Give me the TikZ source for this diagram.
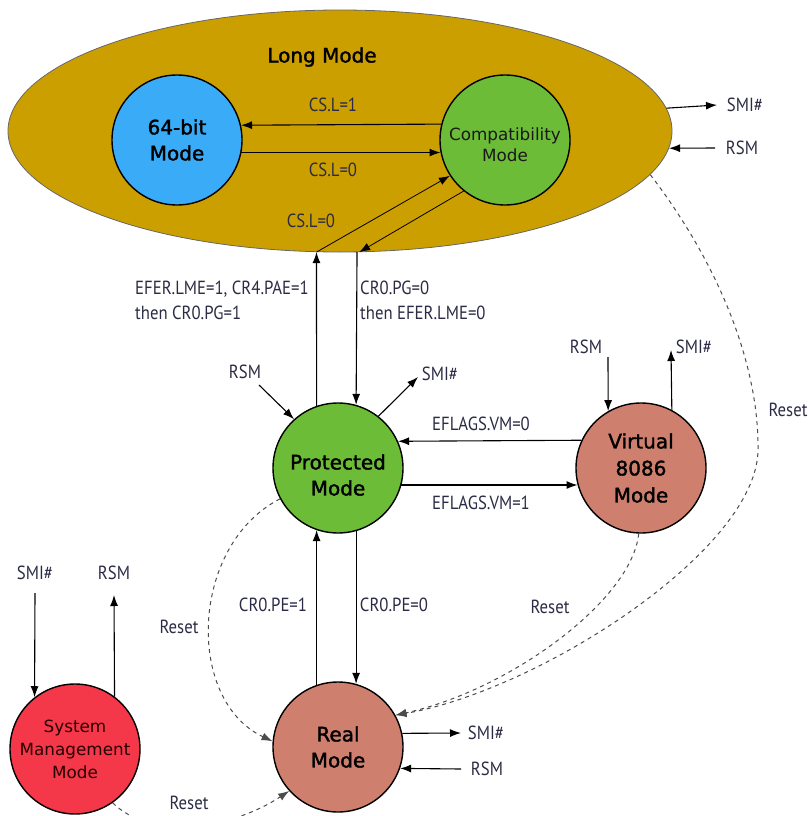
\documentclass[tikz,border=0pt]{standalone}
\usepackage{fontspec}
\setmainfont{DejaVu Sans}
\newfontfamily\labfont[FakeStretch=0.88]{PT Sans}
\newfontfamily\statefont[FakeBold=1.6]{DejaVu Sans}
\usetikzlibrary{arrows.meta,shapes.geometric}
\definecolor{longgold}{HTML}{CC9F00}
\definecolor{bitblue}{HTML}{3AABF7}
\definecolor{modegreen}{HTML}{6CBC38}
\definecolor{salmon}{HTML}{CF7F6E}
\definecolor{smmred}{HTML}{F5374A}
\definecolor{labelink}{HTML}{2B2B45}
\begin{document}
\begin{tikzpicture}[x=1pt,y=-1pt,
  state/.style={circle,draw=black,line width=1.4pt,minimum size=130pt,inner sep=0pt,align=center},
  boldtxt/.style={font=\statefont\fontsize{20}{26}\selectfont,align=center},
  thintxt/.style={font=\fontsize{16.8}{21}\selectfont,align=center},
  lbl/.style={font=\labfont\fontsize{19}{25}\selectfont,text=labelink,inner sep=1pt},
  arr/.style={-{Latex[length=11pt,width=8pt]},line width=1.1pt},
  rst/.style={arr,dash pattern=on 4pt off 4pt,draw=black!70,line width=1pt}]
\useasboundingbox (0,0) rectangle (809,816);

% Long mode region and its sub-modes
\node[ellipse,draw=black!60,line width=0.8pt,fill=longgold,minimum width=664pt,minimum height=242pt,inner sep=0pt] (lm) at (340,131) {};
\node[boldtxt] (lmtitle) at (322,57) {Long Mode};
\node[state,fill=bitblue,boldtxt] (b64) at (177,140) {64-bit\\Mode};
\node[state,fill=modegreen] (cmp) at (505,140) {};
\node[thintxt,text=black!90] (cmptxt) at (505,145) {Compatibility\\Mode};

% Other operating modes
\node[state,fill=modegreen] (prot) at (338,468) {};
\node[boldtxt] (prottxt) at (338,475) {Protected\\Mode};
\node[state,fill=salmon,font=\statefont\fontsize{20}{27}\selectfont] (v86) at (641,468) {Virtual\\8086\\Mode};
\node[state,fill=salmon,boldtxt] (real) at (338,747) {Real\\Mode};
\node[state,fill=smmred,font=\fontsize{16.8}{23}\selectfont,text=black!85!red] (smm) at (75,749) {System\\Management\\Mode};

% Transition labels
\node[lbl] (csl1) at (333,105) {CS.L=1};
\node[lbl] (csl0a) at (333,170) {CS.L=0};
\node[lbl] (csl0b) at (311,221) {CS.L=0};
\node[lbl,anchor=west,align=left] (enterlm) at (134,300.5) {EFER.LME=1, CR4.PAE=1\\then CR0.PG=1};
\node[lbl,anchor=west,align=left] (leavelm) at (359,300.5) {CR0.PG=0\\then EFER.LME=0};
\node[lbl] (vm0) at (481,424) {EFLAGS.VM=0};
\node[lbl] (vm1) at (481,503) {EFLAGS.VM=1};
\node[lbl] (pe1) at (273,605) {CR0.PE=1};
\node[lbl] (pe0) at (394,605) {CR0.PE=0};
\node[lbl] (rstA) at (788,410) {Reset};
\node[lbl] (rstB) at (550,607) {Reset};
\node[lbl] (rstC) at (179,627) {Reset};
\node[lbl] (rstD) at (189,803) {Reset};
\node[lbl] (lmsmi) at (745,105) {SMI\#};
\node[lbl] (lmrsm) at (742,148) {RSM};
\node[lbl] (prsm) at (245,372) {RSM};
\node[lbl] (psmi) at (440,374) {SMI\#};
\node[lbl] (vrsm) at (586,347) {RSM};
\node[lbl] (vsmi) at (694,347) {SMI\#};
\node[lbl] (rsmi) at (486,733) {SMI\#};
\node[lbl] (rrsm) at (487,769) {RSM};
\node[lbl] (ssmi) at (35,573) {SMI\#};
\node[lbl] (srsm) at (114,573) {RSM};

% Free ends of the SMI#/RSM stubs
\coordinate (lmSmiEnd) at (717,105);
\coordinate (lmRsmStart) at (715,148);
\coordinate (pRsmStart) at (259,385);
\coordinate (pSmiEnd) at (418,377);
\coordinate (vRsmStart) at (608,357);
\coordinate (vSmiEnd) at (671,350);
\coordinate (rSmiEnd) at (461,733);
\coordinate (rRsmStart) at (461,769);
\coordinate (sSmiStart) at (35,593);
\coordinate (sRsmEnd) at (114,595);
\coordinate (lmTurn) at (758,450);

% Transitions inside long mode
\draw[arr] (cmp.166.7) -- (b64.13.3);
\draw[arr] (b64.-11.5) -- (cmp.191.5);
\draw[arr,line width=0.8pt] (lm.-101.2) -- (cmp.213.2);
\draw[arr,line width=0.8pt] (cmp.231) -- (lm.-81.5);

% Entering and leaving long mode
\draw[arr] (prot.109.8) -- (lm.-101.2);
\draw[arr] (lm.-82.9) -- (prot.74.8);

% Protected <-> virtual 8086
\draw[arr] (v86.155.4) -- (prot.24.6);
\draw[arr] (prot.-15.2) -- (v86.195.2);

% Protected <-> real
\draw[arr] (real.109.8) -- (prot.-109.8);
\draw[arr] (prot.-74.8) -- (real.74.8);

% SMI# and RSM stubs
\draw[arr] (lm.4.5) -- (lmSmiEnd);
\draw[arr] (lmRsmStart) -- (lm.-3);
\draw[arr] (pRsmStart) -- (prot.132.5);
\draw[arr] (prot.52.3) -- (pSmiEnd);
\draw[arr] (vRsmStart) -- (v86.120.5);
\draw[arr] (v86.62.5) -- (vSmiEnd);
\draw[arr] (real.12.4) -- (rSmiEnd);
\draw[arr] (rRsmStart) -- (real.-19.8);
\draw[arr] (sSmiStart) -- (smm.128);
\draw[arr] (smm.53.1) -- (sRsmEnd);

% Reset paths into real mode
\draw[rst] (prot.208) .. controls (190,545) and (185,700) .. (real.175);
\draw[rst] (smm.-55) .. controls (150,840) and (230,830) .. (real.222.7);
\draw[rst] (v86.-92) .. controls (632,600) and (510,690) .. (real.29.5);
\draw[rst] (lm.-8.6) .. controls (715,259) and (759,360) .. (lmTurn) .. controls (757,550) and (540,690) .. (real.29.5);
\end{tikzpicture}
\end{document}
